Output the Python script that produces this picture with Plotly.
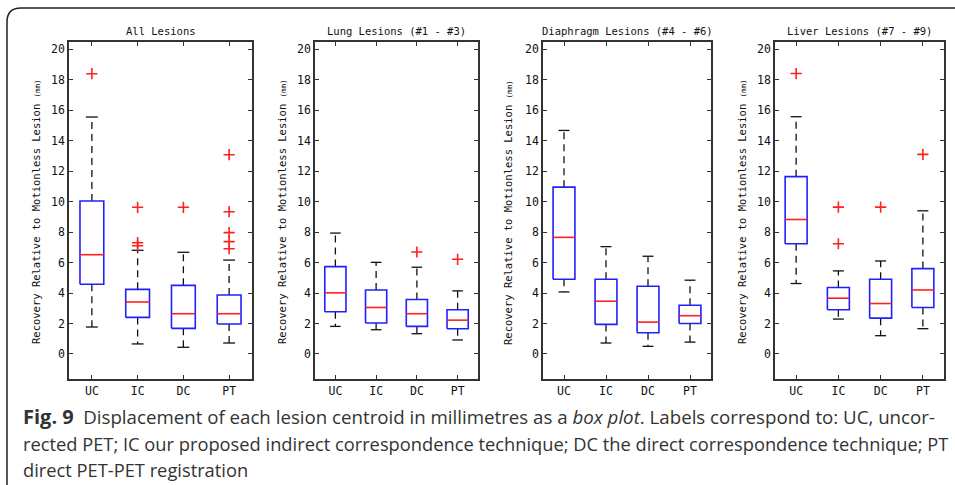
import plotly.graph_objects as go

W, H = 955, 485

categories = ["UC", "IC", "DC", "PT"]
panel_titles = ["All Lesions", "Lung Lesions (#1 - #3)",
                "Diaphragm Lesions (#4 - #6)", "Liver Lesions (#7 - #9)"]
y_ticks = [0, 2, 4, 6, 8, 10, 12, 14, 16, 18, 20]

# --- box statistics per panel (UC, IC, DC, PT) ---
all_lo = [1.77, 0.66, 0.44, 0.72]
all_q1 = [4.57, 2.40, 1.68, 1.97]
all_med = [6.51, 3.41, 2.64, 2.64]
all_q3 = [10.03, 4.24, 4.50, 3.87]
all_hi = [15.54, 6.80, 6.67, 6.16]
all_out = [[18.38], [9.62, 7.30, 7.10], [9.62], [13.07, 9.33, 7.96, 7.37, 6.90]]

lung_lo = [1.81, 1.59, 1.33, 0.92]
lung_q1 = [2.77, 2.03, 1.81, 1.66]
lung_med = [4.01, 3.05, 2.64, 2.22]
lung_q3 = [5.73, 4.20, 3.57, 2.90]
lung_hi = [7.93, 6.01, 5.69, 4.14]
lung_out = [[], [], [6.69], [6.21]]

dia_lo = [4.07, 0.72, 0.50, 0.78]
dia_q1 = [4.90, 1.94, 1.39, 2.00]
dia_med = [7.65, 3.46, 2.09, 2.51]
dia_q3 = [10.94, 4.90, 4.44, 3.20]
dia_hi = [14.66, 7.04, 6.41, 4.84]
dia_out = [[], [], [], []]

liv_lo = [4.62, 2.29, 1.20, 1.66]
liv_q1 = [7.23, 2.90, 2.35, 3.05]
liv_med = [8.82, 3.66, 3.31, 4.20]
liv_q3 = [11.63, 4.36, 4.90, 5.60]
liv_hi = [15.56, 5.45, 6.10, 9.39]
liv_out = [[18.39], [9.63, 7.23], [9.63], [13.09]]

panels = [
    (all_lo, all_q1, all_med, all_q3, all_hi, all_out),
    (lung_lo, lung_q1, lung_med, lung_q3, lung_hi, lung_out),
    (dia_lo, dia_q1, dia_med, dia_q3, dia_hi, dia_out),
    (liv_lo, liv_q1, liv_med, liv_q3, liv_hi, liv_out),
]

# pixel layout of the four axes frames
x_px = [(69, 252), (315, 478), (543, 711), (775, 944)]
y_top, y_bot = 42, 379
ytitle_x = [36, 282, 508, 742]

BW = 0.26   # half box width
CW = 0.13   # half cap width

fig = go.Figure()
mono = "DejaVu Sans Mono, Liberation Mono, monospace"

for i, (lo, q1, med, q3, hi, outs) in enumerate(panels):
    ax = "" if i == 0 else str(i + 1)
    xa, ya = "x" + ax, "y" + ax
    bx, by, mx, my, wx, wy, cx, cy, ox, oy = [], [], [], [], [], [], [], [], [], []
    for j in range(len(categories)):
        c = j + 1
        bx += [c - BW, c + BW, c + BW, c - BW, c - BW, None]
        by += [q1[j], q1[j], q3[j], q3[j], q1[j], None]
        mx += [c - BW, c + BW, None]
        my += [med[j], med[j], None]
        wx += [c, c, None, c, c, None]
        wy += [q3[j], hi[j], None, q1[j], lo[j], None]
        cx += [c - CW, c + CW, None, c - CW, c + CW, None]
        cy += [hi[j], hi[j], None, lo[j], lo[j], None]
        for v in outs[j]:
            ox.append(c)
            oy.append(v)
    fig.add_trace(go.Scatter(x=wx, y=wy, mode="lines", xaxis=xa, yaxis=ya,
                             line=dict(color="#111111", width=1.3, dash="7px,5px"),
                             hoverinfo="skip", showlegend=False))
    fig.add_trace(go.Scatter(x=cx, y=cy, mode="lines", xaxis=xa, yaxis=ya,
                             line=dict(color="#111111", width=1.3),
                             hoverinfo="skip", showlegend=False))
    fig.add_trace(go.Scatter(x=bx, y=by, mode="lines", xaxis=xa, yaxis=ya,
                             line=dict(color="#2020ff", width=1.6),
                             hoverinfo="skip", showlegend=False))
    fig.add_trace(go.Scatter(x=mx, y=my, mode="lines", xaxis=xa, yaxis=ya,
                             line=dict(color="#ff2020", width=1.6),
                             hoverinfo="skip", showlegend=False))
    if ox:
        fig.add_trace(go.Scatter(x=ox, y=oy, mode="markers", xaxis=xa, yaxis=ya,
                                 marker=dict(symbol="cross-thin", size=8,
                                             line=dict(color="#ff2020", width=1.6)),
                                 hoverinfo="skip", showlegend=False))

    x0, x1 = x_px[i]
    common = dict(showline=True, linecolor="#333333", linewidth=1.5, mirror="ticks",
                  ticks="inside", ticklen=4, tickwidth=1.2, tickcolor="#333333",
                  showgrid=False, zeroline=False,
                  tickfont=dict(family=mono, size=11.5, color="#111111"))
    fig.layout["xaxis" + ax] = dict(common, domain=[x0 / W, x1 / W], range=[0.5, 4.5],
                                    tickvals=[1, 2, 3, 4], ticktext=categories,
                                    anchor=ya, fixedrange=True)
    fig.layout["yaxis" + ax] = dict(common, domain=[1 - y_bot / H, 1 - y_top / H],
                                    range=[-1.64, 20.46], tickvals=y_ticks,
                                    anchor=xa, fixedrange=True)
    # panel title
    fig.add_annotation(text=panel_titles[i], xref="paper", yref="paper",
                       x=(x0 + x1) / 2 / W, y=1 - 31 / H, showarrow=False,
                       xanchor="center", yanchor="middle",
                       font=dict(family=mono, size=10.5, color="#111111"))
    # y title
    fig.add_annotation(text="Recovery Relative to Motionless Lesion <span style='font-size:7.5px'>(mm)</span>",
                       xref="paper", yref="paper",
                       x=ytitle_x[i] / W, y=1 - 212 / H,
                       textangle=-90, showarrow=False,
                       xanchor="center", yanchor="middle",
                       font=dict(family=mono, size=10.5, color="#111111"))

# caption
cap_font = "Open Sans, Noto Sans, sans-serif"
cap_lines = [
    "<span style='font-size:20px'><b>Fig. 9</b></span>  <span style='font-size:18.7px'>Displacement of each lesion centroid in millimetres as a <i>box plot</i>. Labels correspond to: UC, uncor-</span>",
    "rected PET; IC our proposed indirect correspondence technique; DC the direct correspondence technique; PT",
    "direct PET-PET registration",
]
cap_y = [416, 443, 469]
for k, line in enumerate(cap_lines):
    fig.add_annotation(text=line, xref="paper", yref="paper",
                       x=21 / W, y=1 - cap_y[k] / H, showarrow=False,
                       xanchor="left", yanchor="middle",
                       font=dict(family=cap_font, size=18.3, color="#333333"))

# rounded frame border (top + left)
def fx(p): return p / W
def fy(p): return 1 - p / H
path = (f"M {fx(7)},{fy(490)} L {fx(7)},{fy(22)} "
        f"Q {fx(7)},{fy(8)} {fx(21)},{fy(8)} L {fx(960)},{fy(8)}")
fig.add_shape(type="path", path=path, xref="paper", yref="paper",
              line=dict(color="#222222", width=1.5))

fig.update_layout(width=W, height=H, margin=dict(l=0, r=0, t=0, b=0),
                  paper_bgcolor="white", plot_bgcolor="white", showlegend=False)

fig.write_html("out.html", config={"displayModeBar": False},
               post_script="document.body.style.margin='0';document.body.style.overflow='hidden';")
